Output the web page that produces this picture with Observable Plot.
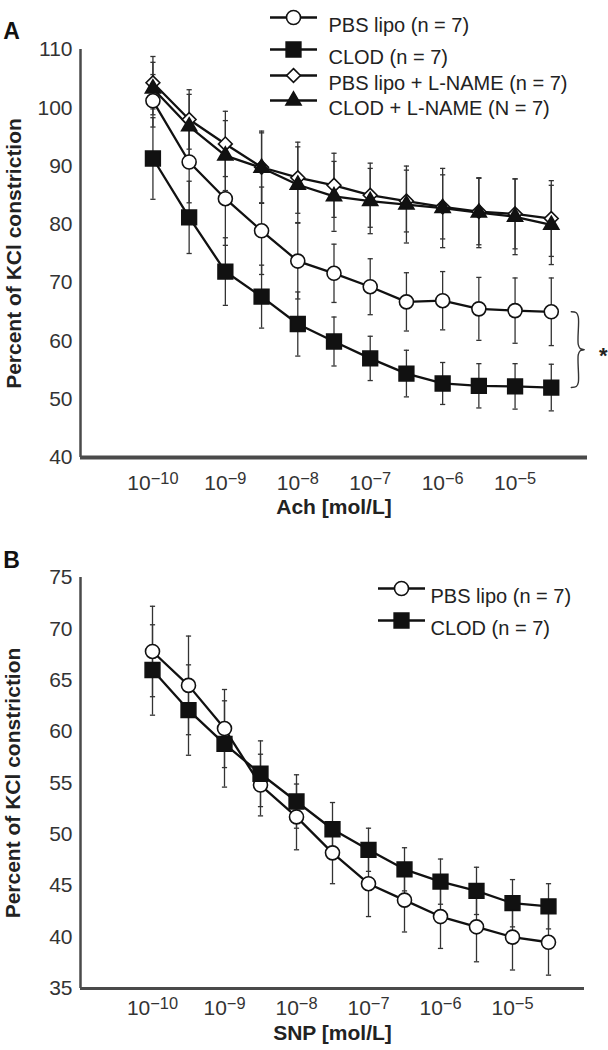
<!DOCTYPE html>
<html>
<head>
<meta charset="utf-8">
<script src="https://cdn.jsdelivr.net/npm/d3@7"></script>
<script src="https://cdn.jsdelivr.net/npm/@observablehq/plot@0.6"></script>
<style>
  body { margin: 0; background: #fff; }
  #wrap { width: 608px; height: 1050px; }
  #wrap svg { display: block; }
</style>
</head>
<body>
<div id="wrap"></div>
<script>
// ---------- data ----------
const doseExp = [-10, -9.5, -9, -8.5, -8, -7.5, -7, -6.5, -6, -5.5, -5, -4.5]; // log10 mol/L
const xTicks = [-10, -9, -8, -7, -6, -5];
const xDomain = [-11, -4];

const yTicksA = [40, 50, 60, 70, 80, 90, 100, 110];
const yDomainA = [40, 110];
const yTicksB = [35, 40, 45, 50, 55, 60, 65, 70, 75];
const yDomainB = [35, 75];

const seriesA = ["PBS lipo (n = 7)", "CLOD (n = 7)", "PBS lipo + L-NAME (n = 7)", "CLOD + L-NAME (N = 7)"];
const seriesB = ["PBS lipo (n = 7)", "CLOD (n = 7)"];

// Panel A: Ach
const pbsA          = [101.2, 90.7, 84.4, 78.9, 73.7, 71.6, 69.3, 66.7, 66.9, 65.5, 65.2, 65.0];
const pbsAErr       = [4.5, 7.0, 8.0, 7.5, 6.5, 5.0, 4.8, 5.0, 5.0, 5.4, 5.6, 5.8];
const clodA         = [91.3, 81.2, 71.9, 67.6, 62.9, 59.9, 57.0, 54.4, 52.7, 52.3, 52.2, 52.0];
const clodAErr      = [7.0, 6.2, 5.8, 5.4, 5.5, 4.2, 3.8, 4.0, 3.6, 3.8, 3.9, 4.0];
const pbsLnameA     = [104.3, 98.0, 93.8, 89.8, 88.0, 86.7, 85.0, 84.0, 83.0, 82.2, 81.8, 81.0];
const pbsLnameAErr  = [4.5, 5.1, 5.6, 6.2, 6.1, 5.5, 5.5, 5.3, 5.5, 5.7, 6.0, 6.5];
const clodLnameA    = [103.3, 96.8, 91.8, 89.7, 86.8, 84.8, 84.0, 83.4, 82.8, 82.0, 81.3, 79.9];
const clodLnameAErr = [4.5, 5.5, 6.0, 6.0, 6.5, 6.0, 5.6, 6.6, 6.8, 6.0, 6.5, 6.8];

// Panel B: SNP
const pbsB     = [67.8, 64.5, 60.3, 54.8, 51.7, 48.2, 45.2, 43.6, 42.0, 41.0, 40.0, 39.5];
const pbsBErr  = [4.4, 4.8, 3.8, 3.0, 3.2, 3.0, 3.2, 3.1, 3.1, 3.4, 3.2, 3.2];
const clodB    = [66.0, 62.1, 58.8, 55.9, 53.2, 50.5, 48.5, 46.6, 45.4, 44.5, 43.3, 43.0];
const clodBErr = [4.4, 4.4, 4.2, 3.2, 2.6, 2.6, 2.1, 2.1, 2.2, 2.3, 2.3, 2.2];

// ---------- helpers ----------
const FONT = "'Liberation Sans', Arial, Helvetica, sans-serif";
const INK = "#111";
const AXIS = "#4a4a4a";

const hline = {
  draw(ctx, size) {
    const r = Math.sqrt(size / Math.PI);
    ctx.moveTo(-r, 0);
    ctx.lineTo(r, 0);
  }
};

const styleOf = {
  "PBS lipo (n = 7)":          {symbol: "circle",   fill: "white", r: 7},
  "CLOD (n = 7)":              {symbol: "square",   fill: INK,     r: 8.3},
  "PBS lipo + L-NAME (n = 7)": {symbol: "diamond2", fill: "white", r: 6.2},
  "CLOD + L-NAME (N = 7)":     {symbol: "triangle", fill: INK,     r: 5.6}
};

function rows(series, ys, errs) {
  return doseExp.map((x, i) => ({series, x, y: ys[i], lo: ys[i] - errs[i], hi: ys[i] + errs[i]}));
}

function seriesMarks(data, order) {
  const marks = [];
  marks.push(Plot.ruleX(data, {x: "x", y1: "lo", y2: "hi", stroke: "#333", strokeWidth: 1.3}));
  marks.push(Plot.dot(data, {x: "x", y: "lo", symbol: hline, r: 2.6, stroke: "#333", strokeWidth: 1.3}));
  marks.push(Plot.dot(data, {x: "x", y: "hi", symbol: hline, r: 2.6, stroke: "#333", strokeWidth: 1.3}));
  marks.push(Plot.line(data, {x: "x", y: "y", z: "series", stroke: INK, strokeWidth: 2.3}));
  for (const s of order) {
    const st = styleOf[s];
    marks.push(Plot.dot(data.filter(d => d.series === s), {
      x: "x", y: "y", symbol: st.symbol, r: st.r, fill: st.fill, stroke: INK, strokeWidth: 1.6
    }));
  }
  return marks;
}

function legendMarks(names, dxMarker, dxText, dys) {
  const marks = [];
  names.forEach((s, i) => {
    const st = styleOf[s];
    marks.push(Plot.dot([s], {frameAnchor: "top-left", dx: dxMarker, dy: dys[i], symbol: hline, r: 23.5, stroke: INK, strokeWidth: 2.3}));
    marks.push(Plot.dot([s], {frameAnchor: "top-left", dx: dxMarker, dy: dys[i], symbol: st.symbol, r: st.r, fill: st.fill, stroke: INK, strokeWidth: 1.6}));
    marks.push(Plot.text([s], {frameAnchor: "top-left", dx: dxText, dy: dys[i], text: d => d, textAnchor: "start", fontSize: 20, fill: "#222"}));
  });
  return marks;
}

function superscriptTicks(svg) {
  d3.select(svg).selectAll('g[aria-label="x-axis tick label"] text').each(function () {
    const t = d3.select(this);
    const e = t.text().split("^")[1];
    t.text("10");
    t.append("tspan").attr("dy", "-0.4em").attr("font-size", "0.78em").text(e.replace("-", "\u2212"));
  });
}

// ---------- Panel A ----------
const dataA = [
  ...rows(seriesA[0], pbsA, pbsAErr),
  ...rows(seriesA[1], clodA, clodAErr),
  ...rows(seriesA[2], pbsLnameA, pbsLnameAErr),
  ...rows(seriesA[3], clodLnameA, clodLnameAErr)
];

// brace spanning the last PBS and CLOD points
const lastX = doseExp[doseExp.length - 1];
const pxA = (xDomain[1] - xDomain[0]) / 507, pyA = (yDomainA[1] - yDomainA[0]) / 408;
const bTop = pbsA[pbsA.length - 1], bBot = clodA[clodA.length - 1], bMid = (bTop + bBot) / 2;
const xL = lastX + 27 * pxA;
const brace = [
  [xL - 7 * pxA, bTop], [xL - 2 * pxA, bTop - 1 * pyA], [xL, bTop - 5 * pyA],
  [xL, bMid + 5 * pyA], [xL + 2 * pxA, bMid + 1 * pyA], [xL + 6 * pxA, bMid],
  [xL + 2 * pxA, bMid - 1 * pyA], [xL, bMid - 5 * pyA],
  [xL, bBot + 5 * pyA], [xL - 2 * pxA, bBot + 1 * pyA], [xL - 7 * pxA, bBot]
];

const plotA = Plot.plot({
  width: 608, height: 530,
  marginLeft: 80, marginRight: 21, marginTop: 49, marginBottom: 73,
  style: {fontFamily: FONT, fontSize: "21px", color: "#333", background: "white"},
  x: {domain: xDomain},
  y: {domain: yDomainA},
  marks: [
    Plot.axisY({ticks: yTicksA, tickSize: 0, tickPadding: 8, label: null, fontSize: 21}),
    Plot.axisX({ticks: xTicks, tickSize: 0, tickPadding: 18, label: null, tickFormat: d => "10^" + d, fontSize: 21}),
    Plot.ruleX([xDomain[0]], {stroke: AXIS, strokeWidth: 2.5}),
    Plot.ruleY([yDomainA[0]], {stroke: AXIS, strokeWidth: 4}),
    ...seriesMarks(dataA, [seriesA[2], seriesA[3], seriesA[0], seriesA[1]]),
    Plot.line(brace, {x: d => d[0], y: d => d[1], curve: "catmull-rom", stroke: "#333", strokeWidth: 1.4}),
    Plot.text(["*"], {x: lastX + 52 * pxA, y: bMid, dy: 6, text: d => d, fontSize: 22, fontWeight: "bold", fill: "#222"}),
    Plot.text(["Percent of KCl constriction"], {frameAnchor: "left", textAnchor: "middle", dx: -66, rotate: -90, text: d => d, fontWeight: "bold", fontSize: 21, fill: "#222"}),
    Plot.text(["Ach [mol/L]"], {frameAnchor: "bottom", dy: 56, text: d => d, fontWeight: "bold", fontSize: 21, fill: "#222"}),
    Plot.text(["A"], {frameAnchor: "top-left", textAnchor: "middle", dx: -69, dy: -27, text: d => d, fontWeight: "bold", fontSize: 23, fill: "#111"}),
    ...legendMarks(seriesA, 213, 248, [-32, 0, 26, 51])
  ]
});
superscriptTicks(plotA);

// ---------- Panel B ----------
const dataB = [
  ...rows(seriesB[0], pbsB, pbsBErr),
  ...rows(seriesB[1], clodB, clodBErr)
];

const plotB = Plot.plot({
  width: 608, height: 520,
  marginLeft: 80, marginRight: 24, marginTop: 47, marginBottom: 62,
  style: {fontFamily: FONT, fontSize: "21px", color: "#333", background: "white"},
  x: {domain: xDomain},
  y: {domain: yDomainB},
  marks: [
    Plot.axisY({ticks: yTicksB, tickSize: 0, tickPadding: 8, label: null, fontSize: 21}),
    Plot.axisX({ticks: xTicks, tickSize: 0, tickPadding: 12, label: null, tickFormat: d => "10^" + d, fontSize: 21}),
    Plot.ruleX([xDomain[0]], {stroke: AXIS, strokeWidth: 2.5}),
    Plot.ruleY([yDomainB[0]], {stroke: AXIS, strokeWidth: 3}),
    ...seriesMarks(dataB, [seriesB[0], seriesB[1]]),
    Plot.text(["Percent of KCl constriction"], {frameAnchor: "left", textAnchor: "middle", dx: -67, rotate: -90, text: d => d, fontWeight: "bold", fontSize: 21, fill: "#222"}),
    Plot.text(["SNP [mol/L]"], {frameAnchor: "bottom", dy: 51, text: d => d, fontWeight: "bold", fontSize: 21, fill: "#222"}),
    Plot.text(["B"], {frameAnchor: "top-left", textAnchor: "middle", dx: -69, dy: -26, text: d => d, fontWeight: "bold", fontSize: 23, fill: "#111"}),
    ...legendMarks(seriesB, 321, 350, [11, 43])
  ]
});
superscriptTicks(plotB);

const wrap = document.getElementById("wrap");
wrap.appendChild(plotA);
wrap.appendChild(plotB);
</script>
</body>
</html>
